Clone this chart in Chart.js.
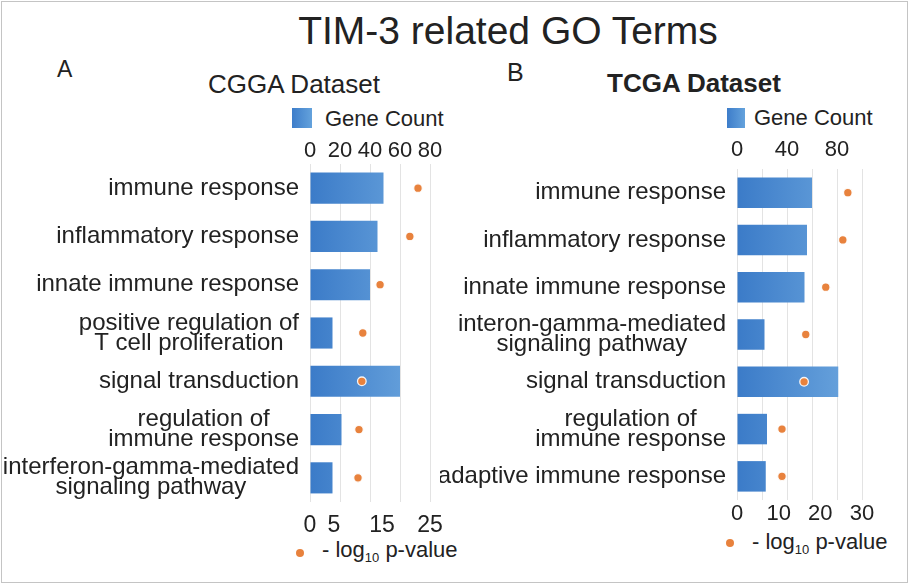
<!DOCTYPE html>
<html>
<head>
<meta charset="utf-8">
<script src="https://cdn.jsdelivr.net/npm/chart.js@4/dist/chart.umd.min.js"></script>
<style>
  html, body { margin:0; padding:0; background:#fff; width:910px; height:585px; overflow:hidden; }
  body { position:relative; font-family:"Liberation Sans", Arial, sans-serif; color:#222; }
  .abs { position:absolute; white-space:nowrap; }
  #frame { position:absolute; left:1px; top:1px; width:905px; height:580px; border:1px solid #c4c4c4; }
  .sq { position:absolute; background:linear-gradient(to right,#3d7dca,#64a2dc); }
  .dot { position:absolute; width:8px; height:8px; border-radius:50%; background:#e8823d; }
  sub { font-size:13px; vertical-align:-5px; line-height:0; }
</style>
</head>
<body>
<div id="frame"></div>
<div class="abs" id="title" style="left:258px;width:500px;text-align:center;top:11px;font-size:39px;line-height:39px;"></div>
<div class="abs" style="left:57px;top:58px;font-size:23px;line-height:23px;">A</div>
<div class="abs" id="subA" style="left:208px;top:71px;font-size:26px;line-height:26px;"></div>
<div class="abs" style="left:507px;top:60px;font-size:25px;line-height:25px;">B</div>
<div class="abs" id="subB" style="left:607px;top:70px;font-size:26px;line-height:26px;font-weight:bold;"></div>

<div class="sq" style="left:292px;top:108px;width:20px;height:20px;"></div>
<div class="abs legBar" style="left:325px;top:108px;font-size:22px;line-height:22px;"></div>
<div class="sq" style="left:727px;top:108px;width:18px;height:20px;"></div>
<div class="abs legBar" style="left:754px;top:107px;font-size:22px;line-height:22px;"></div>

<div class="dot" style="left:296px;top:549px;"></div>
<div class="abs legDot" style="left:322px;top:539px;font-size:22px;line-height:22px;"></div>
<div class="dot" style="left:726px;top:539px;"></div>
<div class="abs legDot" style="left:752px;top:531px;font-size:22px;line-height:22px;"></div>

<div class="abs" style="left:0;top:0;width:460px;height:585px;"><canvas id="cA"></canvas></div>
<div class="abs" style="left:440px;top:0;width:470px;height:585px;"><canvas id="cB"></canvas></div>

<script>
// ---------- data ----------
const chartTitle = 'TIM-3 related GO Terms';
const datasetA = 'CGGA Dataset';
const datasetB = 'TCGA Dataset';
const barLabel = 'Gene Count';
const dotLabelHTML = '- log<sub>10</sub> p-value';

const categoriesA = [
  'immune response',
  'inflammatory response',
  'innate immune response',
  ['positive regulation of', 'T cell proliferation'],
  'signal transduction',
  ['regulation of', 'immune response'],
  ['interferon-gamma-mediated', 'signaling pathway']
];
const geneCountA = [49, 45, 40, 15, 60, 21, 15];
const logPA = [22.5, 20.8, 14.6, 11.0, 10.8, 10.2, 10.0];
const geneTicksA = [0, 20, 40, 60, 80];
const logTicksA = [0, 5, 15, 25];

const categoriesB = [
  'immune response',
  'inflammatory response',
  'innate immune response',
  ['interon-gamma-mediated', 'signaling pathway'],
  'signal transduction',
  ['regulation of', 'immune response'],
  'adaptive immune response'
];
const geneCountB = [60, 56, 54, 22, 81, 24, 23];
const logPB = [26.6, 25.4, 21.3, 16.5, 16.1, 10.8, 10.8];
const geneTicksB = [0, 20, 40, 60, 80, 100];
const geneTickLabelsB = [0, 40, 80];
const logTicksB = [0, 10, 20, 30];

// ---------- text ----------
document.getElementById('title').textContent = chartTitle;
document.getElementById('subA').textContent = datasetA;
document.getElementById('subB').textContent = datasetB;
document.querySelectorAll('.legBar').forEach(e => e.textContent = barLabel);
document.querySelectorAll('.legDot').forEach(e => e.innerHTML = dotLabelHTML);

const FONT = '"Liberation Sans", Arial, sans-serif';
Chart.defaults.font.family = FONT;
Chart.defaults.color = '#222';

const multiLabel = {
  id: 'multiLabel',
  afterDraw(chart, args, opts) {
    const y = chart.scales.y, ctx = chart.ctx;
    ctx.save();
    ctx.font = '24px ' + FONT;
    ctx.fillStyle = '#222';
    ctx.textBaseline = 'middle';
    ctx.textAlign = 'center';
    const right = chart.chartArea.left - opts.gap;
    chart.data.labels.forEach((lab, i) => {
      const lines = Array.isArray(lab) ? lab : [lab];
      const w = Math.max(...lines.map(l => ctx.measureText(l).width));
      const cx = right - w / 2;
      const cy = y.getPixelForValue(i);
      lines.forEach((l, k) => ctx.fillText(l, cx, cy + (k - (lines.length - 1) / 2) * opts.lineHeight));
    });
    ctx.restore();
  }
};

function barGradient(c) {
  const a = c.chart.chartArea;
  if (!a) return '#4a8ad0';
  const g = c.chart.ctx.createLinearGradient(a.left, 0, a.right, 0);
  g.addColorStop(0, '#3b7bc8');
  g.addColorStop(1, '#6ea8df');
  return g;
}

function fixH(h) { return s => { s.height = h; s.paddingLeft = 0; s.paddingRight = 0; }; }

function make(id, cfg) {
  return new Chart(document.getElementById(id), {
    type: 'bar',
    data: {
      labels: cfg.categories,
      datasets: [
        { type: 'line', label: '-log10 p-value', data: cfg.logP, xAxisID: 'x2', yAxisID: 'y',
          showLine: false, pointRadius: 4.3, pointHoverRadius: 4.3,
          pointBackgroundColor: '#e8823d', pointBorderColor: 'rgba(255,255,255,0.9)', pointBorderWidth: 1.3, order: 0 },
        { type: 'bar', label: barLabel, data: cfg.gene, xAxisID: 'x', yAxisID: 'y',
          backgroundColor: barGradient, categoryPercentage: 1, barPercentage: 0.645, order: 1 }
      ]
    },
    options: {
      indexAxis: 'y',
      responsive: true,
      maintainAspectRatio: false,
      animation: false,
      events: [],
      layout: { padding: cfg.padding },
      plugins: { legend: { display: false }, tooltip: { enabled: false },
                 multiLabel: { gap: 11, lineHeight: 20 } },
      scales: {
        y: {
          type: 'category', position: 'left',
          ticks: { display: false },
          grid: { display: false }, border: { display: false },
          afterFit: s => { s.width = cfg.yWidth; s.paddingTop = 0; s.paddingBottom = 0; }
        },
        x: {
          type: 'linear', position: 'top', min: 0, max: cfg.geneMax,
          afterBuildTicks: s => { s.ticks = cfg.geneTicks.map(v => ({ value: v })); },
          ticks: { font: { size: 22 }, padding: cfg.topPad, maxRotation: 0, autoSkip: false,
                   callback: v => cfg.geneLabelShow(v) ? String(v) : '' },
          grid: { display: true, drawOnChartArea: true, drawTicks: false, color: '#e3e3e3', lineWidth: 1 },
          border: { display: false },
          afterFit: fixH(40)
        },
        x2: {
          type: 'linear', position: 'bottom', min: 0, max: cfg.logMax,
          afterBuildTicks: s => { s.ticks = cfg.logTicks.map(v => ({ value: v })); },
          ticks: { font: { size: cfg.botFont }, padding: cfg.botPad, maxRotation: 0, autoSkip: false },
          grid: { display: false, drawTicks: false }, border: { display: false },
          afterFit: fixH(40)
        }
      }
    },
    plugins: [multiLabel]
  });
}

make('cA', {
  categories: categoriesA, gene: geneCountA, logP: logPA,
  geneMax: 80, geneTicks: geneTicksA, geneLabelShow: v => true,
  logMax: 25, logTicks: logTicksA,
  yWidth: 310, padding: { top: 124, bottom: 43, left: 0, right: 30 },
  topPad: 0, botPad: 10, botFont: 23
});

make('cB', {
  categories: categoriesB, gene: geneCountB, logP: logPB,
  geneMax: 100, geneTicks: geneTicksB, geneLabelShow: v => geneTickLabelsB.includes(v),
  logMax: 30, logTicks: logTicksB,
  yWidth: 297, padding: { top: 129, bottom: 45, left: 0, right: 48 },
  topPad: 6, botPad: 1, botFont: 22
});
</script>
</body>
</html>
